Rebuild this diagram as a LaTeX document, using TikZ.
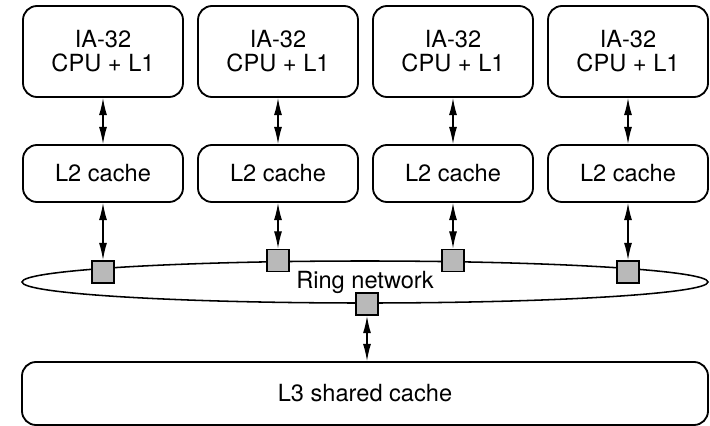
\documentclass[tikz,border=0pt]{standalone}
\usepackage{fontspec}
\setmainfont{TeX Gyre Heros}
\usetikzlibrary{arrows.meta,shapes.geometric}
\begin{document}
\begin{tikzpicture}[
	box/.style={draw, line width=1.3pt, rounded corners=0.35cm, align=center, inner sep=0pt, font=\fontsize{16.8}{17.1}\selectfont},
	cpubox/.style={box, minimum width=4cm, minimum height=2.275cm},
	cachebox/.style={box, minimum width=4cm, minimum height=1.425cm},
	port/.style={draw, line width=1.4pt, fill=gray!55, minimum size=0.55cm, inner sep=0pt},
	link/.style={{Latex[length=4.3mm,width=2mm]}-{Latex[length=4.3mm,width=2mm]}, line width=0.9pt}
]
	\useasboundingbox (0,0) rectangle (17.75,-10.65);
	\def\spacing{4.375}

	\node[cpubox] (cpuA) at (2.575,-1.2875) {IA-32\\CPU + L1};
	\node[cpubox] (cpuB) at (2.575+\spacing,-1.2875) {IA-32\\CPU + L1};
	\node[cpubox] (cpuC) at (2.575+2*\spacing,-1.2875) {IA-32\\CPU + L1};
	\node[cpubox] (cpuD) at (2.575+3*\spacing,-1.2875) {IA-32\\CPU + L1};

	\node[cachebox] (l2A) at (2.575,-4.3375) {L2 cache};
	\node[cachebox] (l2B) at (2.575+\spacing,-4.3375) {L2 cache};
	\node[cachebox] (l2C) at (2.575+2*\spacing,-4.3375) {L2 cache};
	\node[cachebox] (l2D) at (2.575+3*\spacing,-4.3375) {L2 cache};

	\node[ellipse, draw, line width=1.1pt, minimum width=17.15cm, minimum height=1.05cm, inner sep=0pt,
		font=\fontsize{16.8}{17.1}\selectfont] (ring) at (9.125,-7.05) {Ring network};

	\node[port] (portA) at (2.575,-6.8) {};
	\node[port] (portB) at (2.575+\spacing,-6.5125) {};
	\node[port] (portC) at (2.575+2*\spacing,-6.5125) {};
	\node[port] (portD) at (2.575+3*\spacing,-6.8) {};
	\node[port] (portE) at (9.175,-7.6) {};

	\node[box, minimum width=17.15cm, minimum height=1.575cm] (l3) at (9.125,-9.8375) {L3 shared cache};

	\draw[link] (cpuA) -- (l2A);
	\draw[link] (cpuB) -- (l2B);
	\draw[link] (cpuC) -- (l2C);
	\draw[link] (cpuD) -- (l2D);

	\draw[link] (l2A) -- (portA);
	\draw[link] (l2B) -- (portB);
	\draw[link] (l2C) -- (portC);
	\draw[link] (l2D) -- (portD);

	\draw[link] (portE.south) -- (portE.south |- l3.north);
\end{tikzpicture}
\end{document}
